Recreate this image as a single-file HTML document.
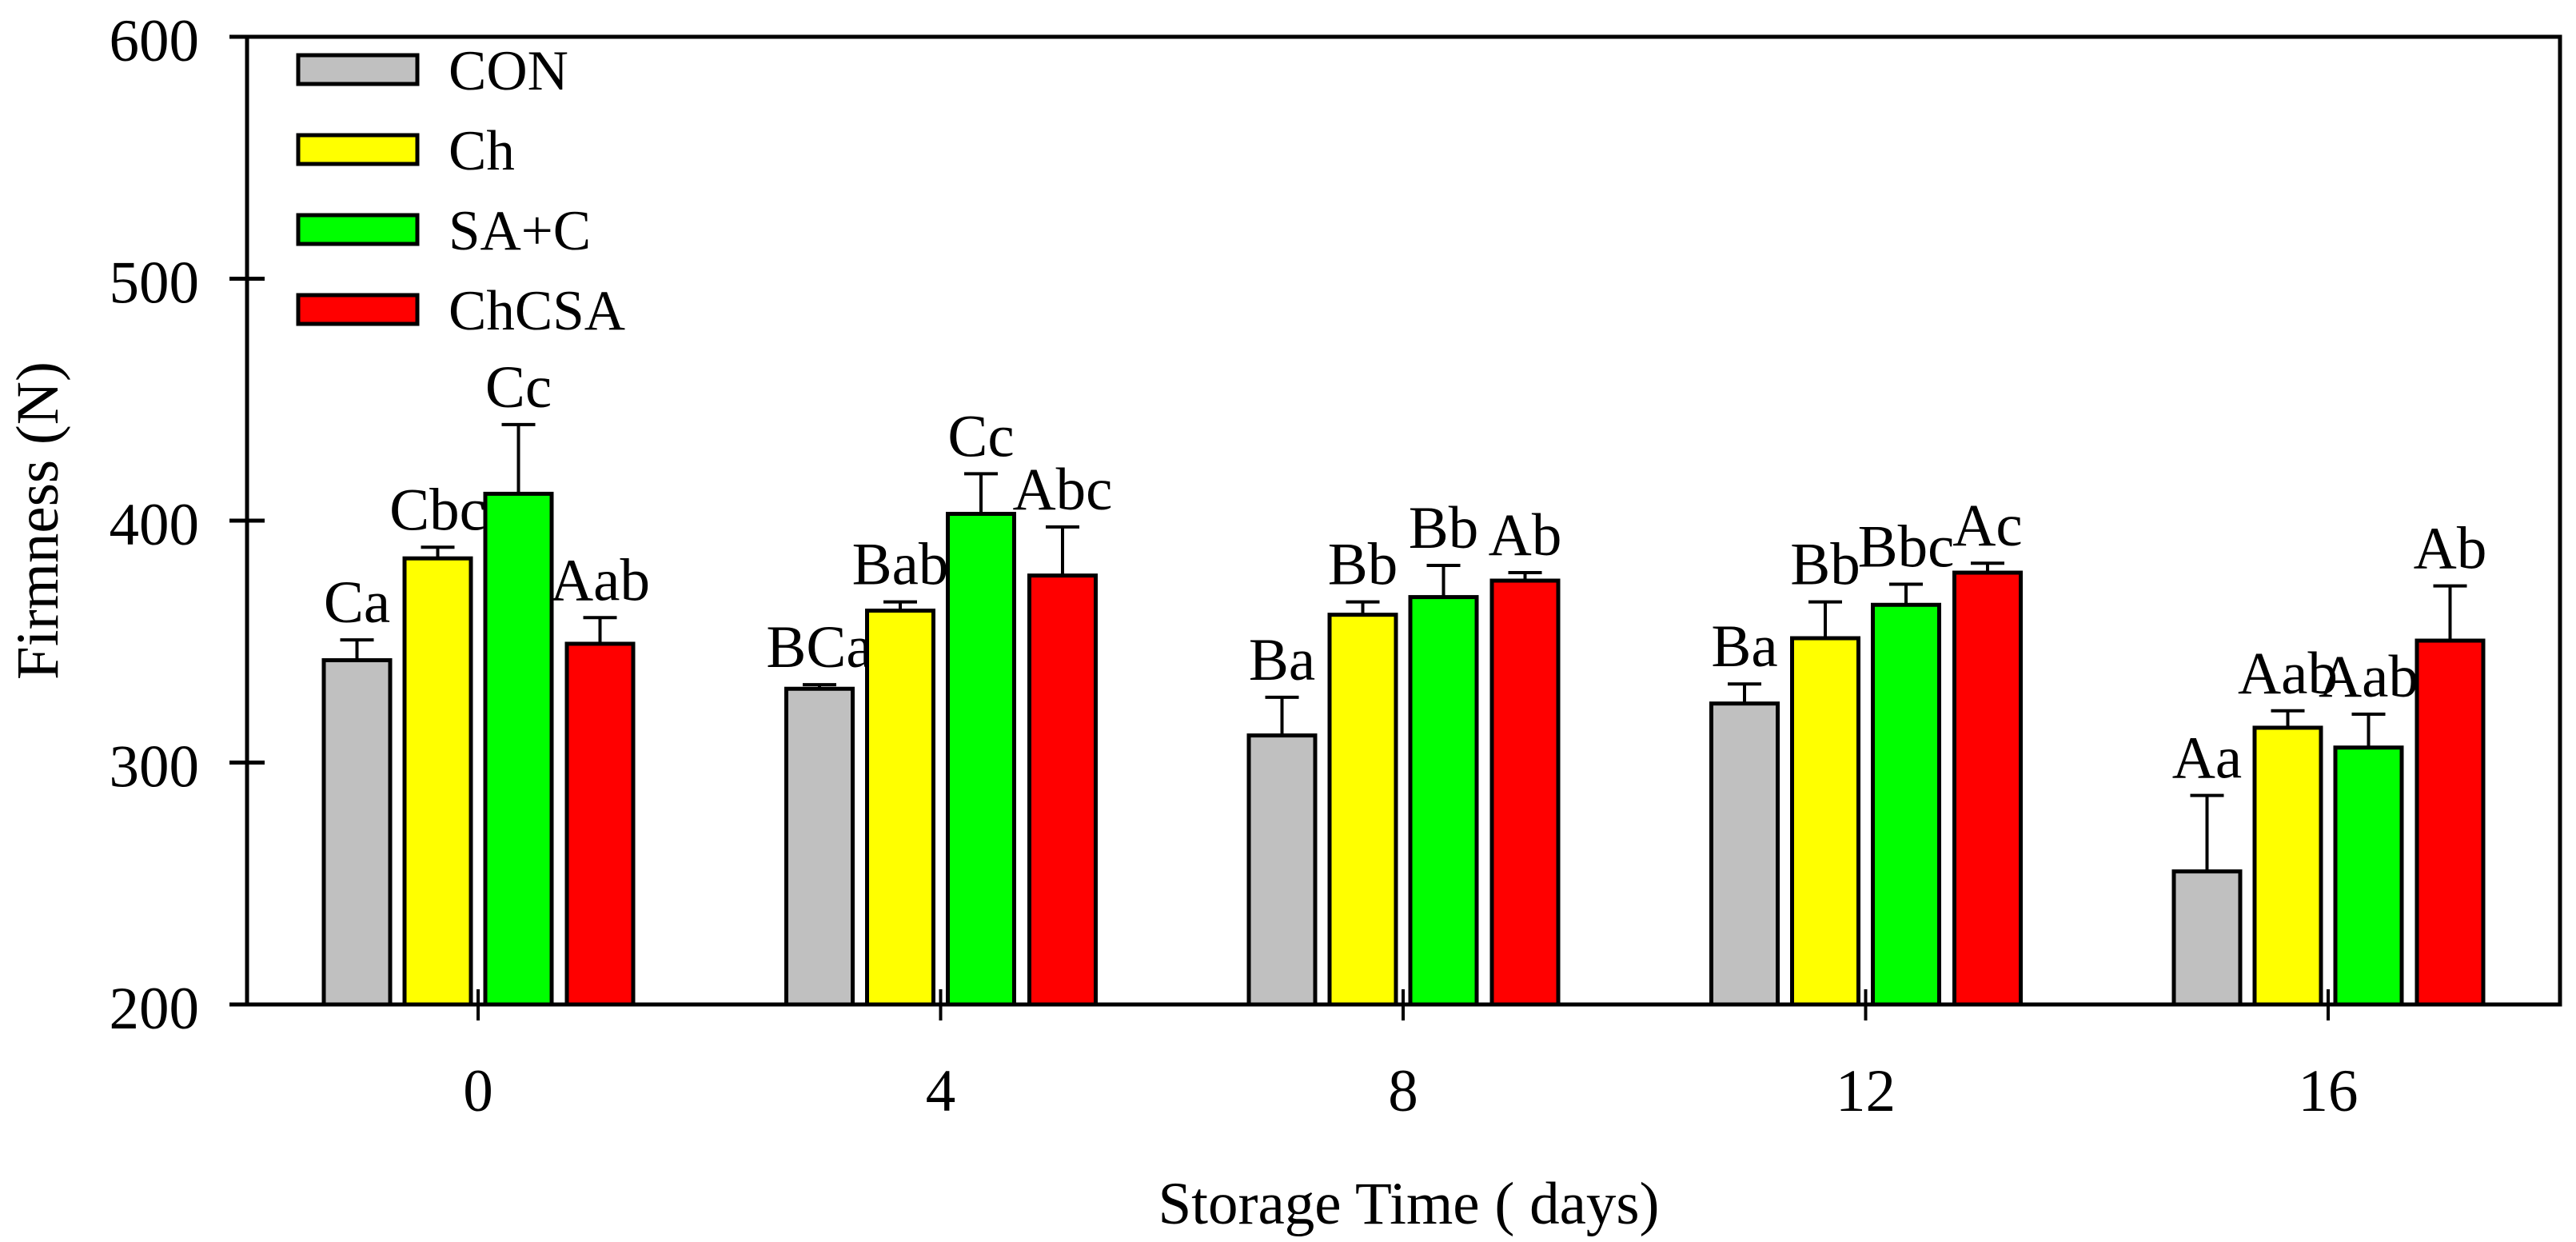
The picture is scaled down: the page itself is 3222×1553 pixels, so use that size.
<!DOCTYPE html>
<html><head><meta charset="utf-8"><style>
html,body{margin:0;padding:0;background:#fff;}
svg{display:block;font-family:"Liberation Serif",serif;}
</style></head>
<body>
<svg id="chart" width="3222" height="1553" viewBox="0 0 3222 1553" xmlns="http://www.w3.org/2000/svg">
<g id="bars"></g>
<g id="axes"></g>
<g id="legend"></g>
</svg>
<script>
const categories = ["0", "4", "8", "12", "16"];
const seriesNames = ["CON", "Ch", "SA+C", "ChCSA"];
const seriesColors = ["#c0c0c0", "#ffff00", "#00ff00", "#ff0000"];
const conValues = [342.3, 330.5, 311.2, 324.4, 255];
const chValues = [384.4, 362.8, 361.1, 351.4, 314.4];
const sacValues = [411.1, 402.8, 368.4, 365.2, 306.2];
const chcsaValues = [349.1, 377.3, 375.2, 378.5, 350.4];
const conErr = [8.4, 1.7, 15.8, 8.1, 31.4];
const chErr = [4.6, 3.6, 5.3, 15.0, 7.0];
const sacErr = [28.6, 16.6, 13.1, 8.5, 13.8];
const chcsaErr = [10.8, 20.1, 3.3, 3.9, 22.6];
const conLabels = ["Ca", "BCa", "Ba", "Ba", "Aa"];
const chLabels = ["Cbc", "Bab", "Bb", "Bb", "Aab"];
const sacLabels = ["Cc", "Cc", "Bb", "Bbc", "Aab"];
const chcsaLabels = ["Aab", "Abc", "Ab", "Ac", "Ab"];
const yTicks = [200, 300, 400, 500, 600];

const NS = "http://www.w3.org/2000/svg";
const X0 = 309, X1 = 3202, Y0 = 46, Y1 = 1256;
const yMin = 200, yMax = 600;
function yScale(v){ return Y1 - (v - yMin) / (yMax - yMin) * (Y1 - Y0); }
function xCenter(i){ return 598 + i * 578.5; }
const slotOffsets = [-195, -94, 7, 109];
const barW = 87;

function mk(tag, attrs, parent){
  const e = document.createElementNS(NS, tag);
  for (const k in attrs) e.setAttribute(k, attrs[k]);
  parent.appendChild(e);
  return e;
}
const gb = document.getElementById("bars");
const ga = document.getElementById("axes");
const gl = document.getElementById("legend");

const vals = [conValues, chValues, sacValues, chcsaValues];
const errs = [conErr, chErr, sacErr, chcsaErr];
const labs = [conLabels, chLabels, sacLabels, chcsaLabels];

categories.forEach((c, i) => {
  for (let s = 0; s < 4; s++) {
    const left = xCenter(i) + slotOffsets[s];
    const top = yScale(vals[s][i]);
    const r = mk("rect", {x: left + 2, y: top, width: barW - 4, height: Y1 - top, fill: seriesColors[s], stroke: "#000", "stroke-width": 5}, gb);
    
    
    const cx = left + barW / 2;
    const et = yScale(vals[s][i] + errs[s][i]);
    const eb = mk("path", {d: `M${cx},${top} V${et} M${cx-21},${et} H${cx+21}`, stroke: "#000", "stroke-width": 4, fill: "none"}, gb);
    
    
    const t = mk("text", {x: cx, y: et - 22, "font-size": 75, "text-anchor": "middle"}, gb);
    t.textContent = labs[s][i];
    
    
  }
  const tk = mk("line", {x1: xCenter(i), x2: xCenter(i), y1: Y1 - 19, y2: Y1 + 20, stroke: "#000", "stroke-width": 4}, ga);
  
  
  const tl = mk("text", {x: xCenter(i), y: 1389, "font-size": 75, "text-anchor": "middle"}, ga);
  tl.textContent = c;
  
  
});

const frame = mk("rect", {x: X0, y: Y0, width: X1 - X0, height: Y1 - Y0, fill: "none", stroke: "#000", "stroke-width": 5}, ga);



yTicks.forEach(v => {
  const y = yScale(v);
  const tk = mk("line", {x1: X0 - 22, x2: X0 + 22, y1: y, y2: y, stroke: "#000", "stroke-width": 5}, ga);
  
  
  const tl = mk("text", {x: 249, y: y + 30, "font-size": 75, "text-anchor": "end"}, ga);
  tl.textContent = v;
  
  
});

const yt = mk("text", {x: 0, y: 0, "font-size": 75, "text-anchor": "middle", transform: "translate(72,651) rotate(-90)"}, ga);
yt.textContent = "Firmness (N)";


const xt = mk("text", {x: 1762, y: 1530, "font-size": 75, "text-anchor": "middle"}, ga);
xt.textContent = "Storage Time ( days)";



seriesNames.forEach((n, s) => {
  const y = 67 + s * 100;
  const r = mk("rect", {x: 373, y: y + 2, width: 149, height: 36, fill: seriesColors[s], stroke: "#000", "stroke-width": 5}, gl);
  
  
  const t = mk("text", {x: 561, y: y + 45, "font-size": 71}, gl);
  t.textContent = n;
  
  
});
</script>
</body></html>
